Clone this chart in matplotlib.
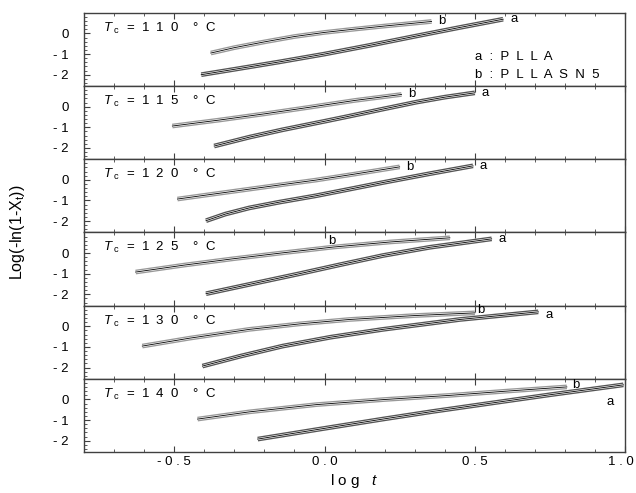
import numpy as np
import matplotlib.pyplot as plt
import matplotlib.transforms as mtransforms
from matplotlib.ticker import MultipleLocator, FixedLocator

plt.rcParams["font.family"] = ["Liberation Sans", "DejaVu Sans"]
plt.rcParams["mathtext.fontset"] = "custom"
plt.rcParams["mathtext.it"] = "Liberation Sans:italic"
plt.rcParams["mathtext.rm"] = "Liberation Sans"

temps = ["1  1  0", "1  1  5", "1  2  0", "1  2  5", "1  3  0", "1  4  0"]

# PLLA (a): log t vs log(-ln(1-X_t))
a_x = [[-0.41, -0.30, -0.15, 0.0, 0.15, 0.30, 0.45, 0.594],
       [-0.367, -0.25, -0.139, 0.0, 0.083, 0.2, 0.306, 0.4, 0.5],
       [-0.394, -0.33, -0.25, -0.15, -0.028, 0.08, 0.194, 0.35, 0.494],
       [-0.394, -0.25, -0.083, 0.05, 0.194, 0.35, 0.556],
       [-0.406, -0.28, -0.139, 0.02, 0.194, 0.45, 0.711],
       [-0.222, 0.0, 0.194, 0.36, 0.528, 0.75, 0.994]]
a_y = [[-2.0, -1.74, -1.38, -1.0, -0.58, -0.14, 0.29, 0.69],
       [-1.91, -1.48, -1.12, -0.71, -0.46, -0.10, 0.22, 0.46, 0.67],
       [-1.98, -1.66, -1.36, -1.08, -0.77, -0.46, -0.13, 0.30, 0.68],
       [-1.97, -1.52, -1.0, -0.57, -0.12, 0.28, 0.69],
       [-1.93, -1.45, -0.96, -0.53, -0.15, 0.33, 0.70],
       [-1.92, -1.40, -0.95, -0.58, -0.23, 0.23, 0.71]]

# PLLASN5 (b)
b_x = [[-0.378, -0.30, -0.20, -0.10, 0.0, 0.10, 0.20, 0.356],
       [-0.506, -0.35, -0.2, -0.05, 0.1, 0.256],
       [-0.489, -0.37, -0.25, -0.14, -0.028, 0.1, 0.25],
       [-0.628, -0.47, -0.306, -0.14, 0.028, 0.22, 0.417],
       [-0.606, -0.45, -0.25, -0.08, 0.083, 0.3, 0.5],
       [-0.422, -0.25, -0.028, 0.2, 0.417, 0.6, 0.806]]
b_y = [[-0.95, -0.69, -0.41, -0.15, 0.05, 0.21, 0.36, 0.58],
       [-0.94, -0.65, -0.35, -0.03, 0.30, 0.59],
       [-0.93, -0.69, -0.45, -0.23, -0.01, 0.28, 0.63],
       [-0.92, -0.59, -0.28, 0.01, 0.29, 0.54, 0.74],
       [-0.96, -0.58, -0.15, 0.12, 0.33, 0.52, 0.65],
       [-0.95, -0.60, -0.25, 0.0, 0.20, 0.40, 0.61]]

# offsets (points) of the a / b tags from the curve ends
a_off = [(5, 0), (5, 0), (5, 0), (5, 0), (5, -2), (-12, -12)]
b_off = [(5, 0), (5, 0), (5, 0), (-88, -2), (2, 2), (4, 1.5)]

fig = plt.figure(figsize=(6.36, 4.93), dpi=100)
left, right, top, bottom = 0.132, 0.983, 0.974, 0.083
h = (top - bottom) / 6
frame = "#404040"

for i in range(6):
    ax = fig.add_axes([left, top - (i + 1) * h, right - left, h])
    for xs, ys, edge in [(b_x[i], b_y[i], "#999999"), (a_x[i], a_y[i], "#555555")]:
        ax.plot(xs, ys, color=edge, lw=3.4, solid_capstyle="butt", zorder=2)
        ax.plot(xs, ys, color="white", lw=1.5, solid_capstyle="butt", zorder=3)
        ax.plot(xs, ys, color="black", lw=0.6, zorder=4)
    ax.annotate("a", (a_x[i][-1], a_y[i][-1]), xytext=a_off[i], textcoords="offset points",
                fontsize=9.5, va="center", ha="left")
    ax.annotate("b", (b_x[i][-1], b_y[i][-1]), xytext=b_off[i], textcoords="offset points",
                fontsize=9.5, va="center", ha="left")

    ax.text(0.035, 0.79, r"$T_{\,\,\rm c}$" + "  =  " + temps[i] + "    °  C", transform=ax.transAxes,
            fontsize=9.5, va="center", ha="left")
    if i == 0:
        ax.text(0.723, 0.40, "a  :  P  L  L  A", transform=ax.transAxes, fontsize=9.5, va="center")
        ax.text(0.723, 0.15, "b  :  P  L  L  A  S  N  5", transform=ax.transAxes, fontsize=9.5, va="center")

    ax.set_xlim(-0.8, 1.0)
    ax.set_ylim(-2.55, 1.0)
    ax.xaxis.set_major_locator(MultipleLocator(0.5))
    ax.xaxis.set_minor_locator(MultipleLocator(0.1))
    ax.yaxis.set_major_locator(FixedLocator([-2, -1, 0]))
    ax.yaxis.set_minor_locator(MultipleLocator(0.2))
    ax.tick_params(which="both", direction="in", top=True, bottom=True, left=True, right=False,
                   color=frame, labelsize=9.5)
    ax.tick_params(which="major", length=4)
    ax.tick_params(which="minor", length=2)
    ax.tick_params(axis="y", pad=11)
    ax.set_yticks([-2, -1, 0])
    ax.set_yticklabels(["- 2", "- 1", "0"])
    for s in ax.spines.values():
        s.set_color(frame)
        s.set_linewidth(1.0)
    if i < 5:
        ax.tick_params(axis="x", labelbottom=False)
    else:
        ax.set_xticks([-0.5, 0.0, 0.5, 1.0])
        ax.set_xticklabels(["- 0 . 5", "0 . 0", "0 . 5", "1 . 0"])
        ax.tick_params(axis="x", pad=3)
        last = ax.get_xticklabels()[-1]
        last.set_ha("right")
        last.set_transform(last.get_transform() + mtransforms.ScaledTranslation(9 / 100, 0, fig.dpi_scale_trans))
        ax.set_xlabel(r"l o g   $t$", fontsize=11, labelpad=3)

fig.text(0.028, 0.529, r"Log(-ln(1-X$_{\rm t}$))", rotation=90, fontsize=11.5, ha="center", va="center")

fig.savefig("out.png", dpi=100)
